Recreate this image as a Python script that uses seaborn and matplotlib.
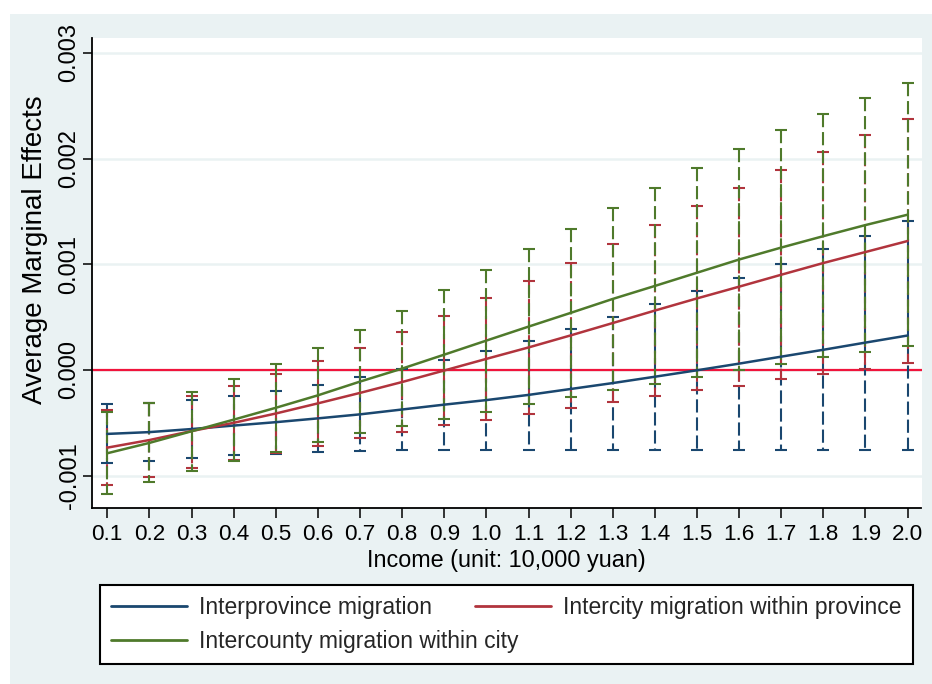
import numpy as np
import pandas as pd
import matplotlib
matplotlib.use("Agg")
import matplotlib.pyplot as plt
from matplotlib.patches import Rectangle
from matplotlib.lines import Line2D
import seaborn as sns

# Income levels (unit: 10,000 yuan)
income = [0.1, 0.2, 0.3, 0.4, 0.5, 0.6, 0.7, 0.8, 0.9, 1.0,
          1.1, 1.2, 1.3, 1.4, 1.5, 1.6, 1.7, 1.8, 1.9, 2.0]
x_tick_labels = ["0.1", "0.2", "0.3", "0.4", "0.5", "0.6", "0.7", "0.8", "0.9", "1.0",
                 "1.1", "1.2", "1.3", "1.4", "1.5", "1.6", "1.7", "1.8", "1.9", "2.0"]

series_names = ["Interprovince migration",
                "Intercity migration within province",
                "Intercounty migration within city"]

# Average marginal effects with 95% confidence bounds
interprov_ame = [-0.000605, -0.000588, -0.000559, -0.000526, -0.000494, -0.000458, -0.000420,
                 -0.000374, -0.000328, -0.000285, -0.000236, -0.000180, -0.000124, -0.000064,
                 -0.000003, 0.000060, 0.000126, 0.000191, 0.000259, 0.000326]
interprov_lo = [-0.000884, -0.000859, -0.000836, -0.000808, -0.000792, -0.000777, -0.000770,
                -0.000761, -0.000754, -0.000754, -0.000754, -0.000754, -0.000754, -0.000754,
                -0.000754, -0.000754, -0.000754, -0.000754, -0.000754, -0.000754]
interprov_hi = [-0.000325, -0.000316, -0.000281, -0.000243, -0.000196, -0.000139, -0.000069,
                0.000013, 0.000098, 0.000180, 0.000278, 0.000388, 0.000499, 0.000625,
                0.000745, 0.000871, 0.001000, 0.001140, 0.001272, 0.001408]

intercity_ame = [-0.000735, -0.000663, -0.000578, -0.000500, -0.000412, -0.000316, -0.000217,
                 -0.000114, -0.000005, 0.000105, 0.000213, 0.000327, 0.000444, 0.000562,
                 0.000677, 0.000788, 0.000901, 0.001012, 0.001116, 0.001220]
intercity_lo = [-0.001090, -0.001010, -0.000931, -0.000852, -0.000786, -0.000717, -0.000641,
                -0.000584, -0.000524, -0.000470, -0.000417, -0.000360, -0.000306, -0.000249,
                -0.000193, -0.000148, -0.000088, -0.000038, 0.000013, 0.000066]
intercity_hi = [-0.000379, -0.000316, -0.000243, -0.000148, -0.000038, 0.000085, 0.000208,
                0.000357, 0.000515, 0.000679, 0.000843, 0.001013, 0.001193, 0.001373,
                0.001547, 0.001723, 0.001890, 0.002061, 0.002219, 0.002374]

intercounty_ame = [-0.000788, -0.000690, -0.000580, -0.000470, -0.000358, -0.000240, -0.000110,
                   0.000013, 0.000145, 0.000278, 0.000410, 0.000540, 0.000672, 0.000795,
                   0.000920, 0.001045, 0.001158, 0.001266, 0.001371, 0.001469]
intercounty_lo = [-0.001174, -0.001064, -0.000953, -0.000859, -0.000773, -0.000685, -0.000600,
                  -0.000530, -0.000464, -0.000395, -0.000325, -0.000256, -0.000193, -0.000133,
                  -0.000063, 0.000003, 0.000060, 0.000123, 0.000174, 0.000227]
intercounty_hi = [-0.000401, -0.000316, -0.000208, -0.000082, 0.000057, 0.000205, 0.000379,
                  0.000556, 0.000754, 0.000950, 0.001146, 0.001335, 0.001537, 0.001723,
                  0.001913, 0.002090, 0.002266, 0.002421, 0.002569, 0.002712]

y_ticks = [-0.001, 0.000, 0.001, 0.002, 0.003]
y_tick_labels = ["-0.001", "0.000", "0.001", "0.002", "0.003"]

BG = "#eaf2f3"
colors = ["#1a476f", "#b1343d", "#4f7a2b"]
ZERO_RED = "#f0143c"

sns.set_theme(style="ticks")
plt.rcParams["font.family"] = ["Liberation Sans", "DejaVu Sans"]
plt.rcParams["lines.scale_dashes"] = False

W, H = 932, 684
fig = plt.figure(figsize=(W / 100, H / 100), dpi=100, facecolor="white")
fig.patches.append(Rectangle((10 / W, 0), 1, 1 - 14 / H, transform=fig.transFigure,
                             facecolor=BG, edgecolor="none", zorder=-10))

left, right, top, bottom = 91.7, 921.5, 38.3, 508.0
ax = fig.add_axes([left / W, 1 - bottom / H, (right - left) / W, (bottom - top) / H])
ax.set_facecolor("white")

# Confidence intervals: dashed vertical bars with solid caps
bounds = [(interprov_lo, interprov_ame, interprov_hi),
          (intercity_lo, intercity_ame, intercity_hi),
          (intercounty_lo, intercounty_ame, intercounty_hi)]
for (lo, mid, hi), col in zip(bounds, colors):
    lo, mid, hi = np.array(lo), np.array(mid), np.array(hi)
    eb = ax.errorbar(income, mid, yerr=[mid - lo, hi - mid], fmt="none",
                     ecolor=col, elinewidth=1.5, capsize=4, capthick=1.5, zorder=2)
    bars = eb.lines[2][0]
    bars.set_segments([s[::-1] for s in bars.get_segments()])
    bars.set_linestyle((0, (9.5, 3.5)))

ax.axhline(0, color=ZERO_RED, lw=1.6, zorder=1.5)

# Marginal effect curves
df = pd.DataFrame({
    "income": income * 3,
    "ame": interprov_ame + intercity_ame + intercounty_ame,
    "series": [series_names[0]] * len(income) + [series_names[1]] * len(income)
              + [series_names[2]] * len(income),
})
sns.lineplot(data=df, x="income", y="ame", hue="series", hue_order=series_names,
             palette=colors, lw=1.8, legend=False, ax=ax, zorder=3)

ax.set_xlim(0.063, 2.033)
ax.set_ylim(-0.001306, 0.003138)
ax.set_xticks(income)
ax.set_xticklabels(x_tick_labels)
ax.set_yticks(y_ticks)
ax.set_yticklabels(y_tick_labels, rotation=90, va="center")

ax.yaxis.grid(True, color=BG, lw=1.8)
ax.xaxis.grid(False)
ax.set_axisbelow(True)

for side in ["top", "right"]:
    ax.spines[side].set_visible(False)
for side in ["left", "bottom"]:
    ax.spines[side].set_color("black")
    ax.spines[side].set_linewidth(1.3)

ax.tick_params(axis="x", bottom=True, length=7.2, width=1.1, color="black",
               labelsize=16.2, pad=4, labelcolor="black")
ax.tick_params(axis="y", left=True, length=6.5, width=1.1, color="black",
               labelsize=17, pad=1.5, labelcolor="black")

ax.set_xlabel("Income (unit: 10,000 yuan)", fontsize=16.8, color="black")
ax.xaxis.set_label_coords(0.5, -0.087)
ax.set_ylabel("Average Marginal Effects", fontsize=20, color="black")
ax.yaxis.set_label_coords(-0.0527, 0.549)

handles = [Line2D([], [], color=colors[0], lw=2),
           Line2D([], [], color=colors[2], lw=2),
           Line2D([], [], color=colors[1], lw=2)]
labels = [series_names[0], series_names[2], series_names[1]]
leg = fig.legend(handles, labels, ncol=2, loc="upper left",
                 bbox_to_anchor=(100 / W, 1 - 585 / H), frameon=True, fancybox=False,
                 edgecolor="black", facecolor="white", framealpha=1, fontsize=16.5,
                 handlelength=3.3, handletextpad=0.55, columnspacing=-1.9,
                 borderpad=0.48, labelspacing=0.5, borderaxespad=0)
leg.get_frame().set_linewidth(1.5)

fig.savefig("out.png", dpi=100, facecolor=fig.get_facecolor())
